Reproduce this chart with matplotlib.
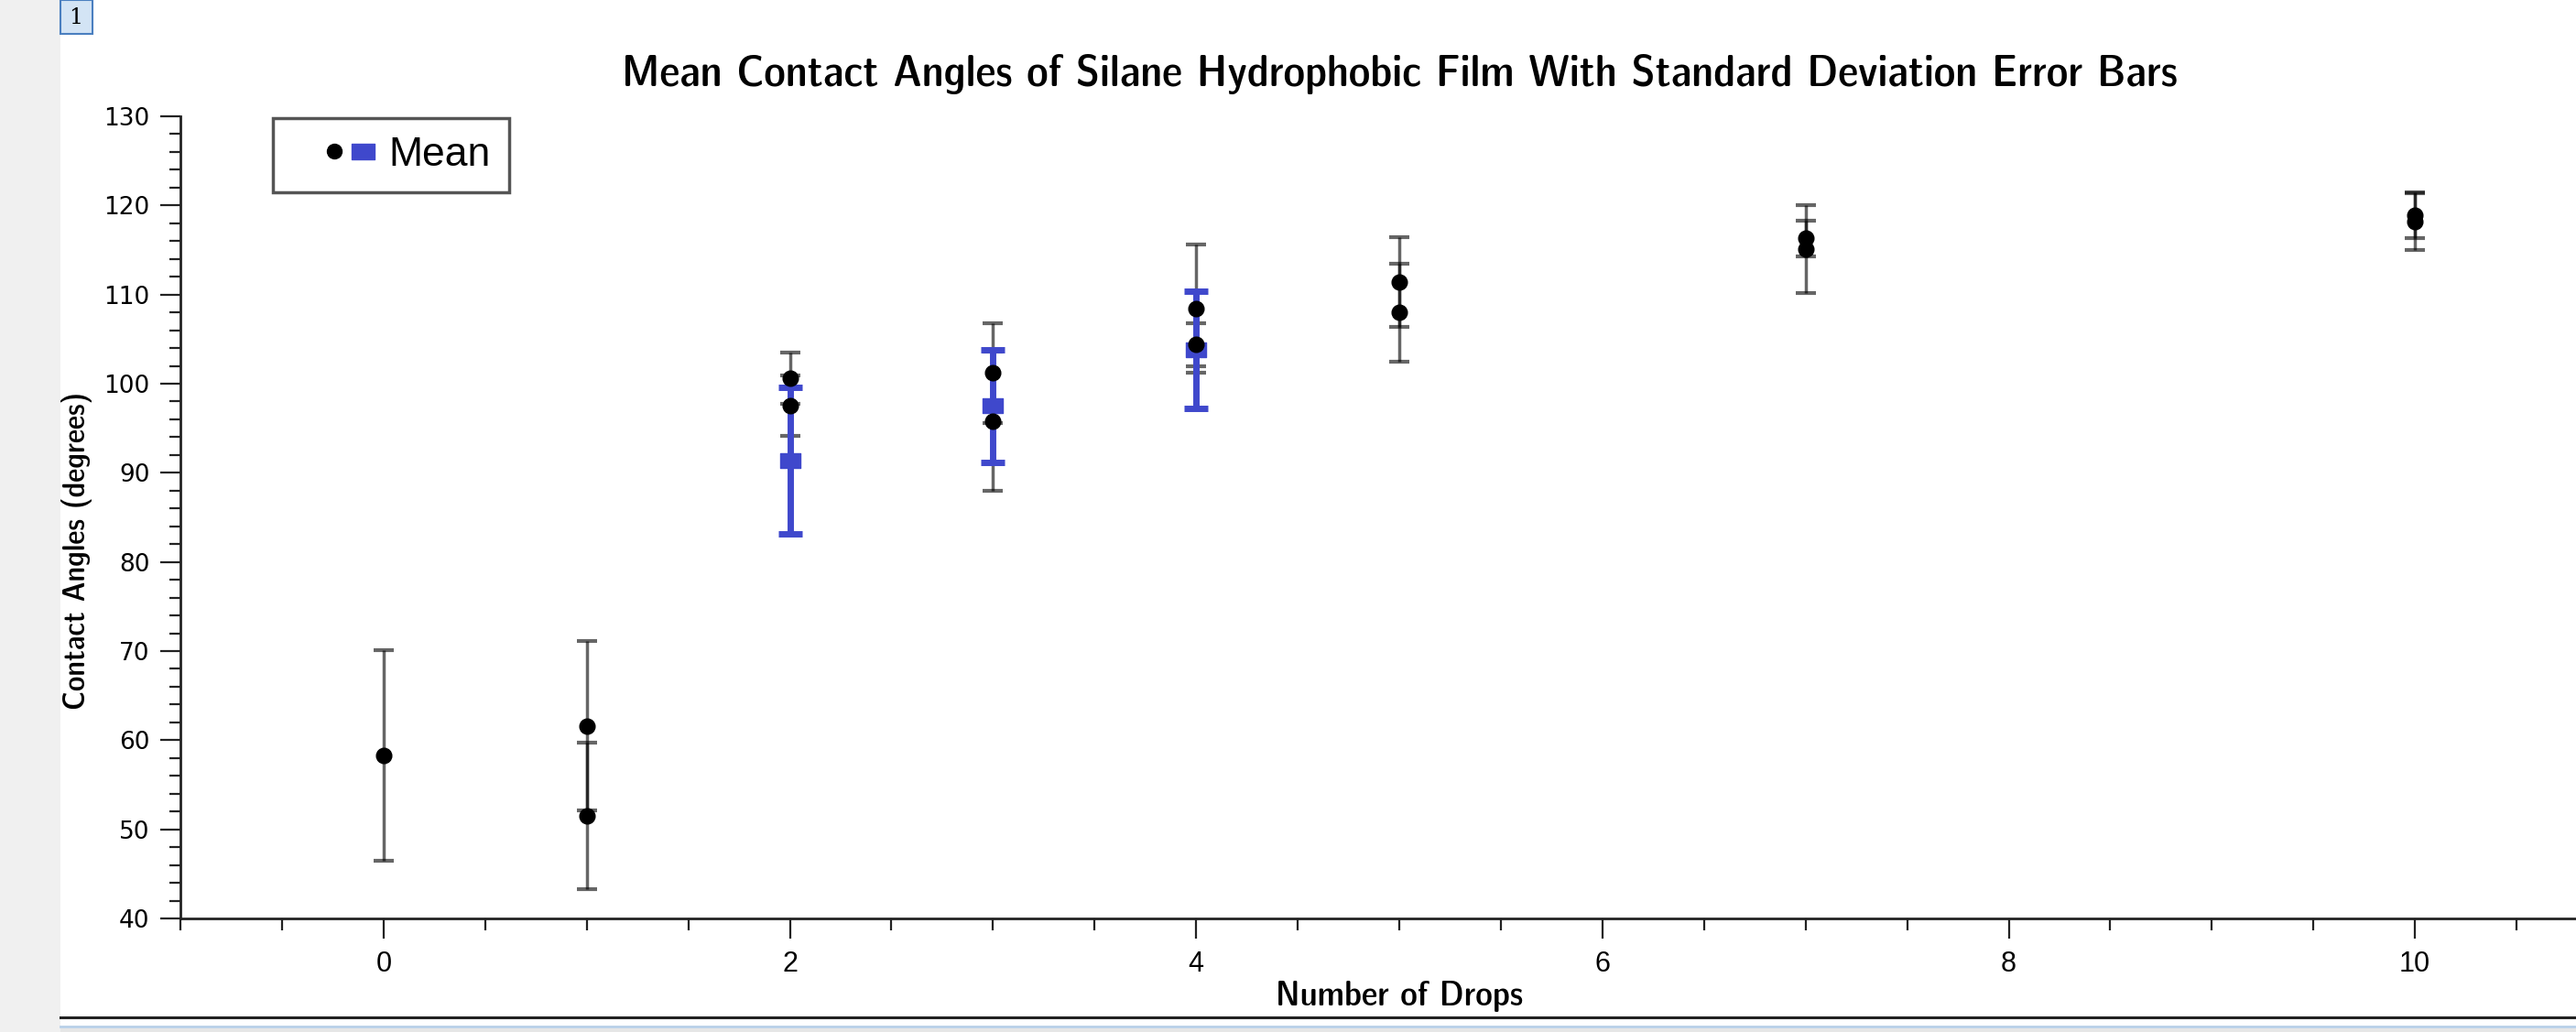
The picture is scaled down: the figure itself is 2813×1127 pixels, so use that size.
import matplotlib
matplotlib.use("Agg")
import matplotlib.pyplot as plt
from matplotlib.patches import Rectangle
from matplotlib.legend_handler import HandlerTuple
from matplotlib.lines import Line2D
from matplotlib.path import Path
from matplotlib.ticker import MultipleLocator
from matplotlib import font_manager


# individual drop measurements (black dots)
drops = [0, 1, 1, 2, 2, 3, 3, 4, 4, 5, 5, 7, 7, 10, 10]
angles = [58.3, 61.6, 51.5, 100.6, 97.5, 101.2, 95.8, 108.4, 104.4,
          111.4, 108.0, 116.3, 115.1, 118.9, 118.2]
angle_sd = [11.8, 9.5, 8.2, 2.9, 3.4, 5.6, 7.8, 7.2, 2.4,
            5.0, 5.5, 2.0, 4.9, 2.6, 3.2]

# mean series (blue squares)
mean_drops = [2, 3, 4]
mean_angles = [91.4, 97.5, 103.8]
mean_sd = [8.2, 6.3, 6.6]

W, H = 2813, 1127
BLUE = "#3f48cc"

# pick a condensed bold face if one is around
narrow = None
for f in font_manager.fontManager.ttflist:
    if "Narrow" in f.name or "Condensed" in f.name or f.stretch in ("condensed", "semi-condensed"):
        narrow = (f.name, f.stretch)
        if "Liberation" in f.name:
            break
if narrow is None:
    narrow = ("Liberation Sans", "normal")

fig = plt.figure(figsize=(W / 100, H / 100), dpi=100)


def fx(px):
    return px / W


def fy(py):
    return 1 - py / H


# window chrome
fig.add_artist(Rectangle((0, 0), fx(66), 1, transform=fig.transFigure,
                         facecolor="#f0f0f0", edgecolor="none"))
fig.add_artist(Rectangle((fx(66), fy(37)), fx(35), 37 / H, transform=fig.transFigure,
                         facecolor="#d3e4f5", edgecolor="#4a7fc0", linewidth=1.5))
fig.text(fx(83), fy(19), "1", ha="center", va="center", fontsize=17,
         family="DejaVu Serif")
fig.add_artist(Rectangle((fx(66), 0), 1, 4 / H, transform=fig.transFigure,
                         facecolor="#e6e6e6", edgecolor="none"))
fig.add_artist(Line2D([fx(66), 1], [fy(1121), fy(1121)], transform=fig.transFigure,
                      color="#b8cfe8", linewidth=2))
fig.add_artist(Line2D([fx(66), 1], [fy(1111), fy(1111)], transform=fig.transFigure,
                      color="#222222", linewidth=2.2))

ax = fig.add_axes([fx(197), fy(1003), fx(2859 - 197), (1003 - 127) / H])

# slightly wide rectangle marker for the means
rect = Path([(-1, -0.68), (1, -0.68), (1, 0.68), (-1, 0.68), (-1, -0.68)], closed=True)

ax.errorbar(drops, angles, yerr=angle_sd, fmt="none", ecolor="black", alpha=0.6,
            elinewidth=2.5, capsize=8, capthick=3, zorder=2)
ax.errorbar(mean_drops, mean_angles, yerr=mean_sd, fmt="none", ecolor=BLUE,
            elinewidth=5, capsize=9.5, capthick=5, zorder=3)
ax.plot(mean_drops, mean_angles, marker=rect, color=BLUE, markersize=16,
        linestyle="none", zorder=4)
ax.plot(drops, angles, "o", color="black", markersize=12,
        linestyle="none", zorder=5)

ax.set_xlim(-1, 11)
ax.set_ylim(40, 130)
ax.xaxis.set_major_locator(MultipleLocator(2))
ax.xaxis.set_minor_locator(MultipleLocator(0.5))
ax.yaxis.set_major_locator(MultipleLocator(10))
ax.yaxis.set_minor_locator(MultipleLocator(2))

for s in ["top", "right"]:
    ax.spines[s].set_visible(False)
for s in ["left", "bottom"]:
    ax.spines[s].set_linewidth(2)
    ax.spines[s].set_color("#222222")

ax.tick_params(axis="both", which="major", length=16, width=1.6, color="#222222")
ax.tick_params(axis="both", which="minor", length=9, width=1.6, color="#222222")
ax.tick_params(axis="y", which="major", pad=8, labelsize=19)
ax.tick_params(axis="x", which="major", pad=9, labelsize=22)
for lab in ax.get_yticklabels():
    lab.set_family("DejaVu Sans")
for lab in ax.get_xticklabels():
    lab.set_family("Liberation Sans")

title = fig.text(fx(1528), fy(94), "Mean Contact Angles of Silane Hydrophobic Film With Standard Deviation Error Bars",
                 ha="center", va="baseline", fontsize=24, fontweight="bold",
                 family=narrow[0], fontstretch=narrow[1])
xlab = fig.text(fx(1528), fy(1098), "Number of Drops", ha="center", va="baseline",
                fontsize=20, fontweight="bold", family=narrow[0], fontstretch=narrow[1])
ylab = fig.text(fx(84), fy(601), "Contact Angles (degrees)", ha="center", va="center",
                rotation=90, fontsize=20, fontweight="bold", family=narrow[0],
                fontstretch=narrow[1])

# legend with proxy markers, an empty first slot keeps the dot off the frame
blank = Line2D([], [], linestyle="none")
dot_h = Line2D([], [], marker="o", color="black", markersize=11.5, linestyle="none")
sq_h = Line2D([], [], marker=rect, color=BLUE, markersize=18, linestyle="none")
leg = ax.legend([(blank, dot_h, sq_h)], ["Mean"],
                handler_map={tuple: HandlerTuple(ndivide=3, pad=0)},
                loc="upper left", bbox_to_anchor=(fx(298), fy(129)),
                bbox_transform=fig.transFigure, fancybox=False, framealpha=1,
                edgecolor="#555555", prop={"family": "Liberation Sans", "size": 32},
                handlelength=2.1, handletextpad=0.3, borderpad=0.45, borderaxespad=0)
leg.get_frame().set_linewidth(2.5)

# fit label widths to what the reference shows (in pixels)
fig.canvas.draw()
r = fig.canvas.get_renderer()
for t, target, along in [(title, 1703, "w"), (xlab, 270, "w"), (ylab, 348, "h")]:
    bb = t.get_window_extent(r)
    size = bb.width if along == "w" else bb.height
    t.set_fontsize(t.get_fontsize() * target / size)

fig.savefig("out.png", dpi=100)
